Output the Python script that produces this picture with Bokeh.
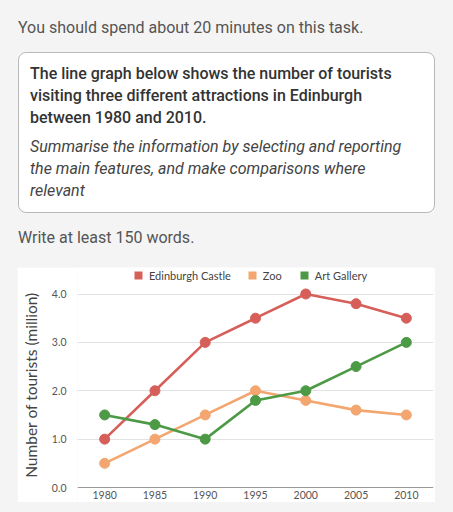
from bokeh.plotting import figure
from bokeh.models import Legend, LegendItem, Div, Range1d, FixedTicker, NumeralTickFormatter
from bokeh.layouts import column
from bokeh.embed import file_html
from bokeh.resources import INLINE

# ---- data ----
years = [1980, 1985, 1990, 1995, 2000, 2005, 2010]
castle = [1.0, 2.0, 3.0, 3.5, 4.0, 3.8, 3.5]
zoo = [0.5, 1.0, 1.5, 2.0, 1.8, 1.6, 1.5]
gallery = [1.5, 1.3, 1.0, 1.8, 2.0, 2.5, 3.0]
series_names = ["Edinburgh Castle", "Zoo", "Art Gallery"]
y_ticks = [0, 1, 2, 3, 4]
y_title = "Number of tourists (million)"

intro = "You should spend about 20 minutes on this task."
task_lines = ["The line graph below shows the number of tourists",
              "visiting three different attractions in Edinburgh",
              "between 1980 and 2010."]
instr_lines = ["Summarise the information by selecting and reporting",
               "the main features, and make comparisons where",
               "relevant"]
outro = "Write at least 150 words."

colors = ["#d65f5a", "#f3a66f", "#4c9a45"]
BG = "#f4f4f4"
FONT = "Lato"

# ---- header (HTML text) ----
html = f"""
<div style="position:relative;width:453px;height:267px;background:{BG};font-family:Roboto,sans-serif;">
 <div style="position:absolute;left:18px;top:18px;font-size:16px;line-height:20px;color:#555;white-space:nowrap;">{intro}</div>
 <div style="position:absolute;left:18px;top:52px;width:417px;height:161px;box-sizing:border-box;border:1px solid #b8b8b8;border-radius:8px;background:#fff;"></div>
 <div style="position:absolute;left:30px;top:63px;font-size:16px;line-height:22px;font-weight:500;color:#333;white-space:nowrap;">{'<br>'.join(task_lines)}</div>
 <div style="position:absolute;left:30px;top:136px;font-size:16px;line-height:22px;font-style:italic;color:#444;white-space:nowrap;">{'<br>'.join(instr_lines)}</div>
 <div style="position:absolute;left:18px;top:228px;font-size:16px;line-height:20px;color:#555;white-space:nowrap;">{outro}</div>
</div>
"""
header = Div(text=html, width=453, height=267, margin=0)

# ---- chart ----
p = figure(width=418, height=235, output_backend="svg", toolbar_location=None,
           x_range=Range1d(1977.3, 2012.7), y_range=Range1d(-0.31, 4.548),
           min_border_left=60, min_border_right=2, min_border_top=0, min_border_bottom=0,
           background_fill_color="white", border_fill_color="white",
           outline_line_color=None, margin=(0, 18, 10, 17))

p.xgrid.grid_line_color = None
p.ygrid.grid_line_color = "#e2e2e2"
p.ygrid.ticker = FixedTicker(ticks=y_ticks)

p.yaxis.ticker = FixedTicker(ticks=y_ticks)
p.yaxis.formatter = NumeralTickFormatter(format="0.0")
p.yaxis.axis_line_color = None
p.yaxis.major_tick_line_color = None
p.yaxis.minor_tick_line_color = None
p.yaxis.major_tick_out = 0
p.yaxis.major_tick_in = 0
p.yaxis.major_label_standoff = 11
p.yaxis.axis_label = y_title
p.yaxis.axis_label_text_font = FONT
p.yaxis.axis_label_text_font_size = "15.5px"
p.yaxis.axis_label_text_font_style = "normal"
p.yaxis.axis_label_text_color = "#444"
p.yaxis.axis_label_standoff = 9

# x axis sits on the zero line, inside the frame
p.xaxis.fixed_location = 0
p.xaxis.ticker = FixedTicker(ticks=years)
p.xaxis.axis_line_color = "#999999"
p.xaxis.major_tick_line_color = None
p.xaxis.minor_tick_line_color = None
p.xaxis.major_tick_out = 0
p.xaxis.major_tick_in = 0
p.xaxis.major_label_standoff = 3

for ax in (p.xaxis, p.yaxis):
    ax.major_label_text_font = FONT
    ax.major_label_text_font_size = "10.5px"
    ax.major_label_text_color = "#555"

items = []
for name, vals, c in zip(series_names, [castle, zoo, gallery], colors):
    p.line(years, vals, line_width=2.6, color=c)
    p.scatter(years, vals, size=10, color=c)
    # zero-size squares: only their legend swatch is visible
    sw = p.scatter(years, vals, marker="square", size=0, fill_color=c, line_color=None)
    items.append(LegendItem(label=name, renderers=[sw]))

legend = Legend(items=items, orientation="horizontal", location=(51, 217),
                border_line_color=None, background_fill_alpha=0,
                margin=0, padding=0, spacing=11, label_standoff=1,
                glyph_width=20, glyph_height=20, label_height=12,
                label_text_font=FONT, label_text_font_size="11px",
                label_text_color="#444", label_text_baseline="middle")
p.add_layout(legend, "center")

layout = column(header, p, styles={"background-color": BG}, spacing=0)
open("out.html", "w").write(file_html(layout, INLINE))
